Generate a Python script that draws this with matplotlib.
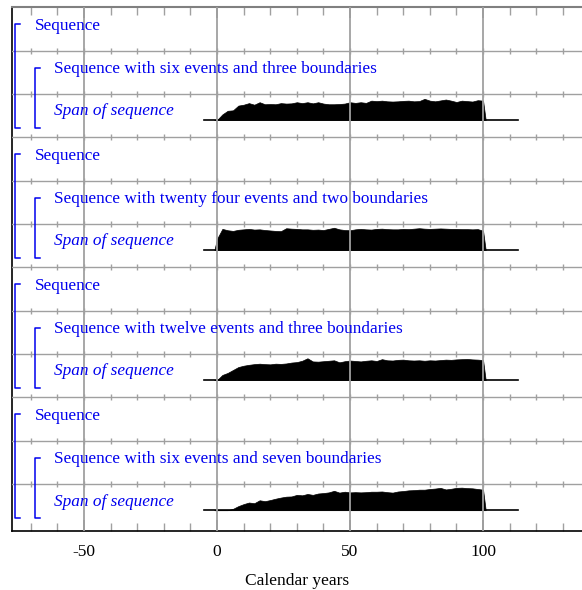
import numpy as np
import matplotlib
matplotlib.use("Agg")
import matplotlib.pyplot as plt

plt.rcParams['font.family'] = ['Liberation Serif', 'DejaVu Serif']
plt.rcParams['axes.unicode_minus'] = False

# section labels (top to bottom)
outer_label = "Sequence"
inner_labels = ["Sequence with six events and three boundaries",
                "Sequence with twenty four events and two boundaries",
                "Sequence with twelve events and three boundaries",
                "Sequence with six events and seven boundaries"]
span_label = "Span of sequence"

# calendar years of the density grid
years = [-1] + list(range(0, 101, 2)) + [101]

# relative probability (%) of the span
span_six_three = [0, 0, 25, 41, 43, 64, 68, 75, 68, 79, 70, 71, 70, 75, 73, 74, 79, 75, 79, 74, 79,
                  73, 70, 70, 71, 73, 79, 76, 79, 76, 86, 84, 86, 83, 82, 83, 85, 86, 83, 84, 94,
                  86, 83, 87, 91, 86, 80, 86, 84, 82, 88, 86, 0]
span_24_two = [0, 50, 94, 88, 85, 90, 92, 94, 91, 92, 89, 87, 85, 84, 97, 95, 94, 92, 92, 90, 91,
               89, 94, 99, 92, 89, 88, 92, 94, 92, 91, 94, 95, 93, 92, 92, 94, 93, 95, 97, 95,
               94, 95, 96, 95, 94, 94, 93, 93, 92, 93, 86, 0]
span_12_three = [0, 0, 23, 32, 45, 58, 64, 68, 71, 73, 71, 70, 73, 72, 74, 78, 80, 86, 97, 83, 82,
                 84, 86, 88, 79, 84, 87, 85, 83, 86, 88, 85, 93, 88, 87, 90, 91, 88, 87, 88, 86,
                 88, 87, 89, 91, 90, 92, 93, 94, 92, 91, 89, 0]
span_six_seven = [0, 0, 0, 0, 6, 18, 27, 34, 31, 44, 40, 45, 51, 56, 60, 61, 68, 66, 72, 68, 74,
                  76, 79, 86, 78, 82, 79, 80, 79, 80, 82, 82, 83, 80, 78, 83, 85, 88, 89, 91, 91,
                  94, 96, 99, 92, 95, 99, 100, 98, 97, 94, 91, 0]
spans = [span_six_three, span_24_two, span_12_three, span_six_seven]

range_start, range_end = -5, 113   # extent of the baseline line
major_ticks = [-50, 0, 50, 100]
minor_ticks = list(range(-70, 140, 10))

blue = '#0000ee'
grey = '#a0a0a0'

fig = plt.figure(figsize=(5.82, 5.90), dpi=100)
ax = fig.add_axes([0.0201, 0.1, 0.9799, 0.8876])

n_rows = 12
ax.set_xlim(-77.2, 137.2)
ax.set_ylim(12.08, 0)

# row lines + little ticks on them
for r in range(1, n_rows):
    ax.axhline(r, color=grey, lw=1.0, zorder=3)
    ax.plot(minor_ticks, [r] * len(minor_ticks), '|', ms=4, mew=1.0, color=grey, zorder=3)
for xv in major_ticks:
    ax.axvline(xv, color=grey, lw=1.3, zorder=3)

scale = 0.52 / 100.0
fs = 12.4
for s, (lab, dens) in enumerate(zip(inner_labels, spans)):
    top = 3 * s
    base = top + 2.6
    ax.text(-68.4, top + 0.43, outer_label, color=blue, fontsize=fs, va='center', ha='left', zorder=4)
    ax.text(-61.3, top + 1.42, lab, color=blue, fontsize=fs, va='center', ha='left', zorder=4)
    ax.text(-61.3, top + 2.40, span_label, color=blue, fontsize=fs, va='center', ha='left',
            style='italic', zorder=4)
    # brackets
    ax.plot([-74.0, -75.9, -75.9, -74.0], [top + 0.39, top + 0.39, top + 2.775, top + 2.775],
            color=blue, lw=1.1, zorder=4)
    ax.plot([-66.5, -68.4, -68.4, -66.5], [top + 1.40, top + 1.40, top + 2.775, top + 2.775],
            color=blue, lw=1.1, zorder=4)
    # span distribution
    h = base - np.array(dens) * scale
    ax.fill_between(years, base, h, color='black', lw=0.5, zorder=2)
    ax.plot([range_start, range_end], [base, base], color='black', lw=1.2, zorder=2)

ax.set_xticks(major_ticks)
ax.set_xticks(minor_ticks, minor=True)
ax.set_xticklabels([str(t) for t in major_ticks])
ax.set_yticks([])
ax.tick_params(axis='x', which='both', direction='in', top=True, color=grey, labelsize=12.5, pad=9)
ax.tick_params(axis='x', which='major', length=8, width=1.3, color='#808080')
ax.tick_params(axis='x', which='minor', length=6, width=1.0)
ax.set_xlabel("Calendar years", fontsize=12.5, labelpad=9.5)

ax.spines['right'].set_visible(False)
ax.spines['top'].set_color('#808080')
ax.spines['top'].set_linewidth(1.5)
ax.spines['left'].set_linewidth(1.2)
ax.spines['bottom'].set_linewidth(1.2)

fig.savefig("out.png", dpi=100)
